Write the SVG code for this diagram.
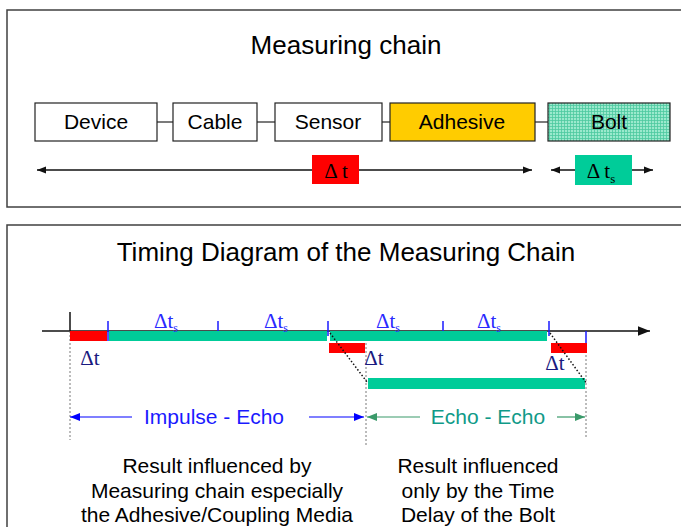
<svg xmlns="http://www.w3.org/2000/svg" width="681" height="527" viewBox="0 0 681 527">
<defs>
<style>
.panel{fill:#fff;stroke:#404040;stroke-width:1.5}
.box{stroke:#222;stroke-width:1.2}
.lbl{font-family:"Liberation Sans",Arial,sans-serif;font-size:21px;fill:#000;text-anchor:middle}
.title{font-family:"Liberation Sans",Arial,sans-serif;font-size:26px;fill:#000;text-anchor:middle}
.greek{font-family:"Liberation Serif","Times New Roman",serif;font-size:21px;text-anchor:middle}
.link{stroke:#222;stroke-width:1.2;fill:none}
.blk{stroke:#111;stroke-width:1.5;fill:none}
.tick{stroke:#1a1aff;stroke-width:1.5}
.dash{stroke:#555;stroke-width:0.8;stroke-dasharray:2,2;fill:none}
.dot{stroke:#111;stroke-width:1.5;stroke-dasharray:1.5,2;fill:none}
.note{font-family:"Liberation Sans",Arial,sans-serif;font-size:21px;fill:#000;text-anchor:middle}
</style>
<marker id="ah" viewBox="0 0 10 10" refX="10" refY="5" markerWidth="9" markerHeight="9" markerUnits="userSpaceOnUse" orient="auto-start-reverse"><path d="M0,1 L10,5 L0,9 Z" fill="#111"/></marker>
<marker id="ahAxis" viewBox="0 0 10 10" refX="10" refY="5" markerWidth="12" markerHeight="12" markerUnits="userSpaceOnUse" orient="auto"><path d="M0,1 L10,5 L0,9 Z" fill="#111"/></marker>
<marker id="ahBlue" viewBox="0 0 10 10" refX="10" refY="5" markerWidth="10" markerHeight="10" markerUnits="userSpaceOnUse" orient="auto-start-reverse"><path d="M0,1 L10,5 L0,9 Z" fill="#0000ff"/></marker>
<marker id="ahGreen" viewBox="0 0 10 10" refX="10" refY="5" markerWidth="10" markerHeight="10" markerUnits="userSpaceOnUse" orient="auto-start-reverse"><path d="M0,1 L10,5 L0,9 Z" fill="#3a9a6a"/></marker>
<pattern id="grid" width="3" height="3" patternUnits="userSpaceOnUse">
<rect width="3" height="3" fill="#9be9cd"/>
<path d="M0,0.5 H3 M0.5,0 V3" stroke="#4cc99f" stroke-width="0.8"/>
</pattern>
</defs>

<rect class="panel" x="7" y="10" width="690" height="197"/>
<rect class="panel" x="7" y="225" width="690" height="320"/>

<text class="title" x="346" y="54">Measuring chain</text>
<text class="title" x="346" y="261">Timing Diagram of the Measuring Chain</text>

<g id="connectors">
<line class="link" x1="157" y1="122" x2="173" y2="122"/>
<line class="link" x1="257" y1="122" x2="275" y2="122"/>
<line class="link" x1="382" y1="122" x2="390" y2="122"/>
<line class="link" x1="535" y1="122" x2="548" y2="122"/>
<line class="blk" x1="37" y1="170" x2="532" y2="170" marker-start="url(#ah)" marker-end="url(#ah)"/>
<line class="blk" x1="551" y1="170" x2="653" y2="170" marker-start="url(#ah)" marker-end="url(#ah)"/>
</g>

<g id="device"><rect class="box" x="35" y="103" width="122" height="38" fill="#fff"/><text class="lbl" x="96" y="129">Device</text></g>
<g id="cable"><rect class="box" x="173" y="103" width="84" height="38" fill="#fff"/><text class="lbl" x="215" y="129">Cable</text></g>
<g id="sensor"><rect class="box" x="275" y="103" width="107" height="38" fill="#fff"/><text class="lbl" x="328" y="129">Sensor</text></g>
<g id="adhesive"><rect class="box" x="390" y="103" width="145" height="38" fill="#ffcc00"/><text class="lbl" x="462" y="129">Adhesive</text></g>
<g id="bolt"><rect class="box" x="548" y="103" width="122" height="38" fill="url(#grid)"/><text class="lbl" x="609" y="129">Bolt</text></g>

<g id="dt-label"><rect x="312" y="155" width="47" height="29" fill="#ff0000"/><text class="greek" x="336" y="178" font-size="22" fill="#000">Δ t</text></g>
<g id="dts-label"><rect x="575" y="155" width="57" height="30" fill="#00cc99"/><text class="greek" x="601" y="178" font-size="22" fill="#000">Δ t<tspan font-size="13" dy="5">s</tspan></text></g>

<g id="timing">
<line class="blk" x1="42" y1="331" x2="650" y2="331" marker-end="url(#ahAxis)"/>
<line class="blk" x1="70" y1="312" x2="70" y2="331"/>
<line class="dash" x1="70" y1="331" x2="70" y2="440"/>
<line class="dash" x1="366" y1="331" x2="366" y2="445"/>
<line class="dash" x1="586" y1="343" x2="586" y2="437"/>

<rect x="70" y="331" width="37" height="10" fill="#ff0000"/>
<rect x="109" y="331" width="218" height="10" fill="#00cc99"/>
<rect x="330" y="331" width="217" height="10" fill="#00cc99"/>
<rect x="329" y="343" width="36" height="10" fill="#ff0000"/>
<rect x="551" y="343" width="36" height="10" fill="#ff0000"/>
<rect x="368" y="378" width="217" height="11" fill="#00cc99"/>

<line class="tick" x1="108" y1="321" x2="108" y2="341"/>
<line class="tick" x1="218" y1="321" x2="218" y2="331"/>
<line class="tick" x1="328" y1="321" x2="328" y2="336"/>
<line class="tick" x1="443" y1="321" x2="443" y2="331"/>
<line class="tick" x1="549" y1="321" x2="549" y2="336"/>
<line class="tick" x1="586" y1="331" x2="586" y2="343"/>

<line class="dot" x1="330" y1="333" x2="367" y2="382"/>
<line class="dot" x1="550" y1="333" x2="587" y2="384"/>

<text class="greek" x="166" y="328" fill="#2a2aff">Δt<tspan font-size="12" dy="4">s</tspan></text>
<text class="greek" x="276" y="328" fill="#2a2aff">Δt<tspan font-size="12" dy="4">s</tspan></text>
<text class="greek" x="388" y="328" fill="#2a2aff">Δt<tspan font-size="12" dy="4">s</tspan></text>
<text class="greek" x="489" y="328" fill="#2a2aff">Δt<tspan font-size="12" dy="4">s</tspan></text>
<text class="greek" x="90" y="365" font-size="22" fill="#1a1a80">Δt</text>
<text class="greek" x="374" y="365" font-size="22" fill="#1a1a80">Δt</text>
<text class="greek" x="555" y="370" font-size="22" fill="#1a1a80">Δt</text>
</g>

<g id="impulse-echo">
<line x1="132" y1="417" x2="70" y2="417" stroke="#0000ff" stroke-width="1.2" marker-end="url(#ahBlue)"/>
<line x1="309" y1="417" x2="364" y2="417" stroke="#0000ff" stroke-width="1.2" marker-end="url(#ahBlue)"/>
<text x="214" y="424" font-family="'Liberation Sans',Arial,sans-serif" font-size="21" fill="#1a1aff" text-anchor="middle">Impulse - Echo</text>
</g>
<g id="echo-echo">
<line x1="420" y1="417" x2="367" y2="417" stroke="#3a9a6a" stroke-width="1.2" marker-end="url(#ahGreen)"/>
<line x1="557" y1="417" x2="585" y2="417" stroke="#3a9a6a" stroke-width="1.2" marker-end="url(#ahGreen)"/>
<text x="488" y="424" font-family="'Liberation Sans',Arial,sans-serif" font-size="21" fill="#109a88" text-anchor="middle">Echo - Echo</text>
</g>

<g id="note-left">
<text class="note" x="217" y="473">Result influenced by</text>
<text class="note" x="217" y="498">Measuring chain especially</text>
<text class="note" x="217" y="522">the Adhesive/Coupling Media</text>
</g>
<g id="note-right">
<text class="note" x="478" y="473">Result influenced</text>
<text class="note" x="478" y="498">only by the Time</text>
<text class="note" x="478" y="522">Delay of the Bolt</text>
</g>
</svg>
